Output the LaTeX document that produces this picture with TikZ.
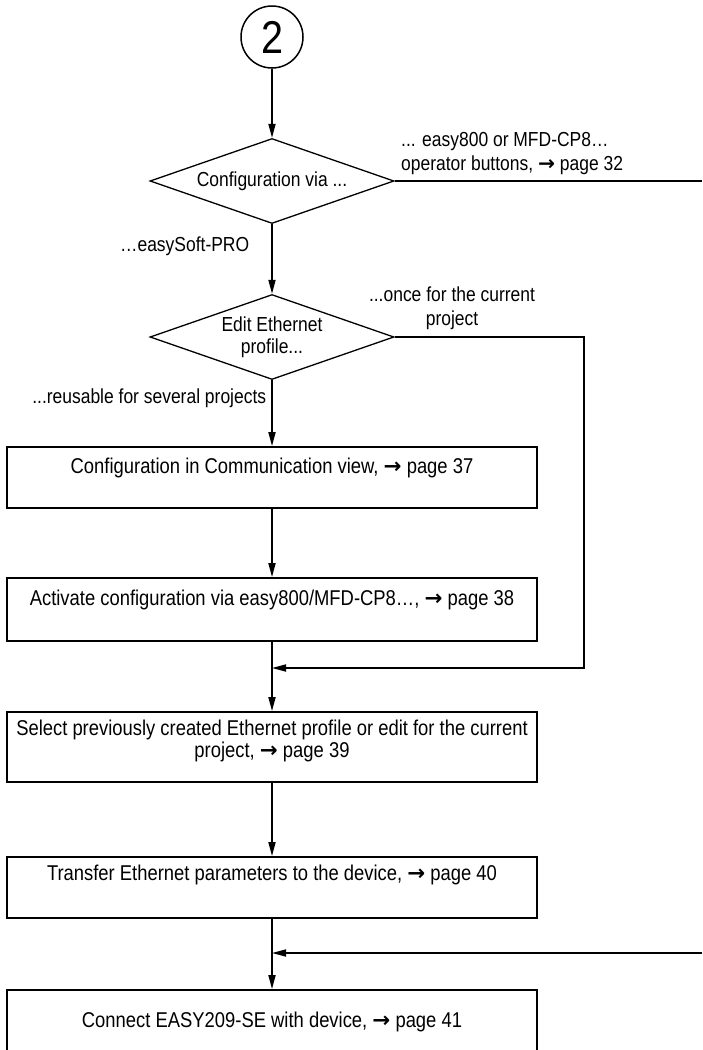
\documentclass[tikz,border=0pt]{standalone}
\usepackage{fontspec}
\setmainfont{Liberation Sans}[FakeStretch=0.86]
\newfontfamily\arrowfont{DejaVu Sans}
\usetikzlibrary{shapes.geometric,arrows.meta}
\newcommand\pg{{\arrowfont\bfseries →}}

\begin{document}
\begin{tikzpicture}[x=1pt,y=-1pt,
  box/.style={draw,line width=1.8pt,minimum width=530pt,inner sep=0pt},
  txt/.style={font=\fontsize{21.4}{22}\selectfont,align=center,inner sep=0pt},
  lbl/.style={font=\fontsize{20.3}{24}\selectfont,inner sep=0pt},
  decide/.style={diamond,draw,line width=1.3pt,shape aspect=2.87,minimum width=244pt,minimum height=85pt,inner sep=0pt,font=\fontsize{20.3}{22}\selectfont,align=center},
  line/.style={line width=1.7pt},
  arr/.style={line,-{Triangle[length=14pt,width=7pt]}}]

 \useasboundingbox (0,0) rectangle (702,1050);

 %start
 \node[circle,draw,line width=1.5pt,minimum size=62pt,inner sep=0pt,font=\fontsize{46}{46}\selectfont] (start) at (272,37) {2};

 %decisions
 \node[decide] (via) at (272,181) {Configuration via ...};
 \node[decide] (edit) at (272,337) {Edit Ethernet\\profile...};

 %steps
    \foreach \name/\yc/\h/\yt/\txt in {b1/477.5/61/468/{Configuration in Communication view, \pg\ page 37},
        b2/609.5/63/600/{Activate configuration via easy800/MFD-CP8…, \pg\ page 38},
        b3/747/70/741/{Select previously created Ethernet profile or edit for the current\\project, \pg\ page 39},
        b4/887.5/61/875/{Transfer Ethernet parameters to the device, \pg\ page 40},
        b5/1025/70/1022/{Connect EASY209-SE with device, \pg\ page 41}}{
         \node[box,minimum height=\h pt] (\name) at (272,\yc) {};
         \node[txt] (\name t) at (272,\yt) {\txt};
    }

 %flow
 \draw[arr] (start.south) -- (via.north);
 \draw[arr] (via.south) -- node[lbl,anchor=east,pos=0.32,xshift=-22pt] (soft) {…easySoft-PRO} (edit.north);
 \draw[arr] (edit.south) -- node[lbl,anchor=east,pos=0.275,xshift=-5pt] (reuse) {...reusable for several projects} (b1.north);
    \foreach \a/\b in {b1/b2,b2/b3,b3/b4,b4/b5}{
         \draw[arr] (\a.south) -- (\b.north);
    }

 %side branches
 \coordinate (out1) at (702,181);
 \draw[line] (via.east) -- (out1);
 \node[lbl,anchor=west,align=left] (buttons) at (401,154) {... easy800 or MFD-CP8…\\operator buttons, \pg\ page 32};

 \coordinate (c1) at (584,668);
 \coordinate (m1) at (272,668);
 \draw[arr] (edit.east) -| (c1) -- (m1);
 \node[lbl,align=center] (once) at (452,308) {...once for the current\\project};

 \coordinate (in2) at (702,953);
 \coordinate (m2) at (272,953);
 \draw[arr] (in2) -- (m2);

\end{tikzpicture}
\end{document}
